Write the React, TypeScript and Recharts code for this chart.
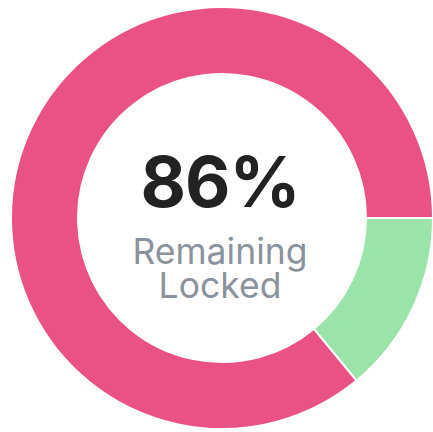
import { Cell, Label, Pie, PieChart } from "recharts";

const labels = ["Unlocked", "Remaining Locked"];
const values = [14, 86];
const colors = ["#9ae4aa", "#ea5283"];

const headline = "86%";
const captionLines = ["Remaining", "Locked"];

const data = labels.map((name, i) => ({ name, value: values[i] }));

const CX = 222;
const CY = 218;

const CenterText = () => {
  const x = CX - 2;
  return (
    <g fontFamily="Inter, sans-serif" textAnchor="middle">
      <text x={x} y={CY - 11} fontSize={70} fontWeight={700} letterSpacing={-1} fill="#222222">
        {headline}
      </text>
      {captionLines.map((line, i) => (
        <text key={line} x={x} y={CY + 46 + i * 34} fontSize={35.5} fill="#8a929d">
          {line}
        </text>
      ))}
    </g>
  );
};

export default function App() {
  return (
    <div style={{ position: "fixed", left: 0, top: 0, width: 433, height: 432, background: "#fff" }}>
      <PieChart width={433} height={432} margin={{ top: 0, right: 0, bottom: 0, left: 0 }}>
        <Pie
          data={data}
          dataKey="value"
          nameKey="name"
          cx={CX}
          cy={CY}
          innerRadius={144}
          outerRadius={211}
          startAngle={0}
          endAngle={-360}
          stroke="#ffffff"
          strokeWidth={2}
          isAnimationActive={false}
        >
          {data.map((d, i) => (
            <Cell key={d.name} fill={colors[i]} />
          ))}
          <Label position="center" content={CenterText} />
        </Pie>
      </PieChart>
    </div>
  );
}
